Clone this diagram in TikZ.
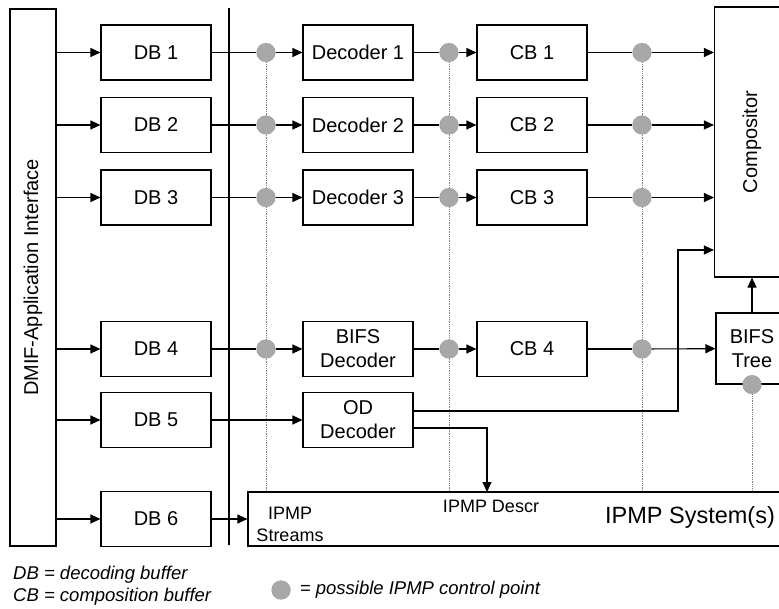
\documentclass[tikz,border=0pt]{standalone}
\usepackage{fontspec}
\setmainfont{Liberation Sans}
\usepackage{xcolor}
\usepackage{tikz}
\usetikzlibrary{arrows.meta}

\definecolor{cpgray}{RGB}{168,168,168}

\begin{document}
\begin{tikzpicture}[x=1pt, y=-1pt,
    box/.style={rectangle, draw, line width=1.1pt, minimum width=110pt, minimum height=55pt,
                align=center, inner sep=2pt, font=\fontsize{20}{24}\selectfont},
    cpoint/.style={circle, draw=gray, densely dotted, fill=cpgray, minimum size=19pt, inner sep=0pt},
    flow/.style={line width=1.1pt, -{Triangle[length=10pt,width=9pt]}},
    link/.style={line width=1.1pt},
    probe/.style={gray, densely dotted, line width=0.8pt},
    small/.style={font=\fontsize{18}{22}\selectfont, align=center, inner sep=1pt},
    legend/.style={font=\fontsize{18.5}{21}\selectfont\itshape, inner sep=1pt}]
    \useasboundingbox (0,0) rectangle (779,608);
    \clip (0,0) rectangle (779,608);

    % Interface, divider and the big blocks on the right
    \node[box, rotate=90, minimum width=537pt, minimum height=46pt] (dmif) at (33,277.5) {DMIF-Application Interface};
    \coordinate (divtop) at (229,8);
    \coordinate (divbot) at (229,545);
    \draw[line width=2pt] (divtop) -- (divbot);
    \node[box, rotate=90, minimum width=270pt, minimum height=75pt] (comp) at (752,142) {Compositor};
    \node[box, minimum width=72pt, minimum height=71pt] (tree) at (752,348.5) {BIFS\\Tree};
    \node[box, minimum width=542pt, minimum height=54pt] (ipmp) at (519,519) {};
    \node[small] (streams) at (290,524) {IPMP\\Streams};
    \node[small] (descr) at (491,506) {IPMP Descr};
    \node[font=\fontsize{23.5}{26}\selectfont] (system) at (690,517) {IPMP System(s)};
    \coordinate (descrin) at (487,492);

    % Decoding buffers
    \node[box] (db1) at (156,52.5) {DB 1};
    \node[box] (db2) at (156,125) {DB 2};
    \node[box] (db3) at (156,197.5) {DB 3};
    \node[box] (db4) at (156,349) {DB 4};
    \node[box] (db5) at (156,420) {DB 5};
    \node[box] (db6) at (156,519) {DB 6};

    % Decoders
    \node[box] (dec1) at (358,52.5) {Decoder 1};
    \node[box] (dec2) at (358,125) {Decoder 2};
    \node[box] (dec3) at (358,197.5) {Decoder 3};
    \node[box] (bifsdec) at (358,349) {BIFS\\Decoder};
    \node[box] (oddec) at (358,420) {OD\\Decoder};

    % Composition buffers
    \node[box] (cb1) at (532,52.5) {CB 1};
    \node[box] (cb2) at (532,125) {CB 2};
    \node[box] (cb3) at (532,197.5) {CB 3};
    \node[box] (cb4) at (532,349) {CB 4};

    % Control points
    \node[cpoint] (c11) at (266,52.5) {};
    \node[cpoint] (c12) at (266,125) {};
    \node[cpoint] (c13) at (266,197.5) {};
    \node[cpoint] (c14) at (266,349) {};
    \node[cpoint] (c21) at (449,52.5) {};
    \node[cpoint] (c22) at (449,125) {};
    \node[cpoint] (c23) at (449,197.5) {};
    \node[cpoint] (c24) at (449,349) {};
    \node[cpoint] (c31) at (642,52.5) {};
    \node[cpoint] (c32) at (642,125) {};
    \node[cpoint] (c33) at (642,197.5) {};
    \node[cpoint] (c34) at (642,349) {};
    \node[cpoint] (ct) at (tree.south) {};

    \draw[probe] (c11) -- (c12) -- (c13) -- (c14) -- (c14 |- ipmp.north);
    \draw[probe] (c21) -- (c22) -- (c23) -- (c24) -- (c24 |- ipmp.north);
    \draw[probe] (c31) -- (c32) -- (c33) -- (c34) -- (c34 |- ipmp.north);
    \draw[probe] (ct) -- (ct |- ipmp.north);

    % Interface to buffers
    \draw[flow] (dmif.south |- db1.west) -- (db1);
    \draw[flow] (dmif.south |- db2.west) -- (db2);
    \draw[flow] (dmif.south |- db3.west) -- (db3);
    \draw[flow] (dmif.south |- db4.west) -- (db4);
    \draw[flow] (dmif.south |- db5.west) -- (db5);
    \draw[flow] (dmif.south |- db6.west) -- (db6);

    % Buffers to decoders
    \draw[link] (db1) -- (c11); \draw[flow] (c11) -- (dec1);
    \draw[link] (db2) -- (c12); \draw[flow] (c12) -- (dec2);
    \draw[link] (db3) -- (c13); \draw[flow] (c13) -- (dec3);
    \draw[link] (db4) -- (c14); \draw[flow] (c14) -- (bifsdec);
    \draw[flow] (db5) -- (oddec);
    \draw[flow] (db6) -- (ipmp);

    % Decoders to composition buffers
    \draw[link] (dec1) -- (c21); \draw[flow] (c21) -- (cb1);
    \draw[link] (dec2) -- (c22); \draw[flow] (c22) -- (cb2);
    \draw[link] (dec3) -- (c23); \draw[flow] (c23) -- (cb3);
    \draw[link] (bifsdec) -- (c24); \draw[flow] (c24) -- (cb4);

    % Composition buffers to compositor
    \draw[link] (cb1) -- (c31); \draw[flow] (c31) -- (c31 -| comp.north);
    \draw[link] (cb2) -- (c32); \draw[flow] (c32) -- (c32 -| comp.north);
    \draw[link] (cb3) -- (c33); \draw[flow] (c33) -- (c33 -| comp.north);
    \draw[link] (cb4) -- (c34); \draw[flow] (c34) -- (tree);
    \draw[flow] (tree) -- (tree |- comp.west);

    % OD decoder outputs
    \draw[flow] ([yshift=9pt]oddec.east) -| ([xshift=-36pt]comp.north |- 0,250) -- (comp.north |- 0,250);
    \draw[flow] ([yshift=-8pt]oddec.east) -| (descrin);

    % Legend
    \node[legend, anchor=west] (lgdb) at (12,575) {DB = decoding buffer};
    \node[legend, anchor=west] (lgcb) at (12,597) {CB = composition buffer};
    \node[cpoint] (lgcp) at (281,590) {};
    \node[legend, anchor=west] (lgtxt) at ([xshift=8pt]lgcp.east) {= possible IPMP control point};
\end{tikzpicture}
\end{document}
